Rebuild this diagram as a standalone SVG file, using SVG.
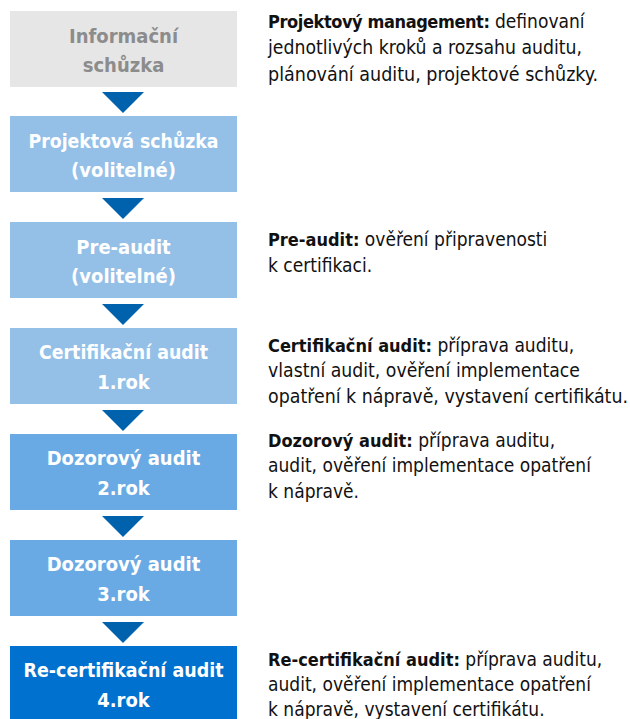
<svg xmlns="http://www.w3.org/2000/svg" width="630" height="719" viewBox="0 0 630 719">
<style>
.bt{font-family:"DejaVu Sans Condensed","DejaVu Sans","Liberation Sans",sans-serif;font-stretch:condensed;font-weight:bold;font-size:20px;text-anchor:middle;fill:#ffffff}
.rt{font-family:"DejaVu Sans Condensed","DejaVu Sans","Liberation Sans",sans-serif;font-stretch:condensed;font-size:19px;fill:#111111}
.b{font-weight:bold;font-size:18px}
.arr{fill:#0062ad}
</style>
<rect width="630" height="719" fill="#ffffff"/>
<g id="n1"><rect x="10" y="11" width="227" height="76" fill="#e6e6e6"/><text class="bt" x="123.5" y="43" style="fill:#8c8c8c">Informační</text><text class="bt" x="123.5" y="72" style="fill:#8c8c8c">schůzka</text></g>
<g id="n2"><rect x="10" y="116" width="227" height="76" fill="#94c0e8"/><text class="bt" x="123.5" y="148" textLength="190" lengthAdjust="spacingAndGlyphs">Projektová schůzka</text><text class="bt" x="123.5" y="177">(volitelné)</text></g>
<g id="n3"><rect x="10" y="222" width="227" height="76" fill="#94c0e8"/><text class="bt" x="123.5" y="254">Pre-audit</text><text class="bt" x="123.5" y="283">(volitelné)</text></g>
<g id="n4"><rect x="10" y="328" width="227" height="76" fill="#94c0e8"/><text class="bt" x="123.5" y="359" textLength="169" lengthAdjust="spacingAndGlyphs">Certifikační audit</text><text class="bt" x="123.5" y="389">1.rok</text></g>
<g id="n5"><rect x="10" y="434" width="227" height="76" fill="#6aaae4"/><text class="bt" x="123.5" y="465">Dozorový audit</text><text class="bt" x="123.5" y="495">2.rok</text></g>
<g id="n6"><rect x="10" y="540" width="227" height="76" fill="#6aaae4"/><text class="bt" x="123.5" y="571">Dozorový audit</text><text class="bt" x="123.5" y="601">3.rok</text></g>
<g id="n7"><rect x="10" y="646" width="227" height="76" fill="#0071ce"/><text class="bt" x="123.5" y="677" textLength="200" lengthAdjust="spacingAndGlyphs">Re-certifikační audit</text><text class="bt" x="123.5" y="707">4.rok</text></g>
<g id="connectors">
<polygon class="arr" points="102,92 144,92 123,113"/>
<polygon class="arr" points="102,198 144,198 123,219"/>
<polygon class="arr" points="102,304 144,304 123,325"/>
<polygon class="arr" points="102,410 144,410 123,431"/>
<polygon class="arr" points="102,516 144,516 123,537"/>
<polygon class="arr" points="102,622 144,622 123,643"/>
</g>
<g id="desc">
<text class="rt" x="268" y="28"><tspan class="b" letter-spacing="-0.4">Projektový management:</tspan> definovaní</text>
<text class="rt" x="268" y="54" textLength="314" lengthAdjust="spacingAndGlyphs">jednotlivých kroků a rozsahu auditu,</text>
<text class="rt" x="268" y="81" textLength="330" lengthAdjust="spacingAndGlyphs">plánování auditu, projektové schůzky.</text>
<text class="rt" x="268" y="246"><tspan class="b">Pre-audit:</tspan> ověření připravenosti</text>
<text class="rt" x="268" y="272">k certifikaci.</text>
<text class="rt" x="268" y="352"><tspan class="b">Certifikační audit:</tspan> příprava auditu,</text>
<text class="rt" x="268" y="377" textLength="312" lengthAdjust="spacingAndGlyphs">vlastní audit, ověření implementace</text>
<text class="rt" x="268" y="403" textLength="360" lengthAdjust="spacingAndGlyphs">opatření k nápravě, vystavení certifikátu.</text>
<text class="rt" x="268" y="447"><tspan class="b">Dozorový audit:</tspan> příprava auditu,</text>
<text class="rt" x="268" y="472">audit, ověření implementace opatření</text>
<text class="rt" x="268" y="498">k nápravě.</text>
<text class="rt" x="268" y="666"><tspan class="b">Re-certifikační audit:</tspan> příprava auditu,</text>
<text class="rt" x="268" y="691">audit, ověření implementace opatření</text>
<text class="rt" x="268" y="716">k nápravě, vystavení certifikátu.</text>
</g>
</svg>
